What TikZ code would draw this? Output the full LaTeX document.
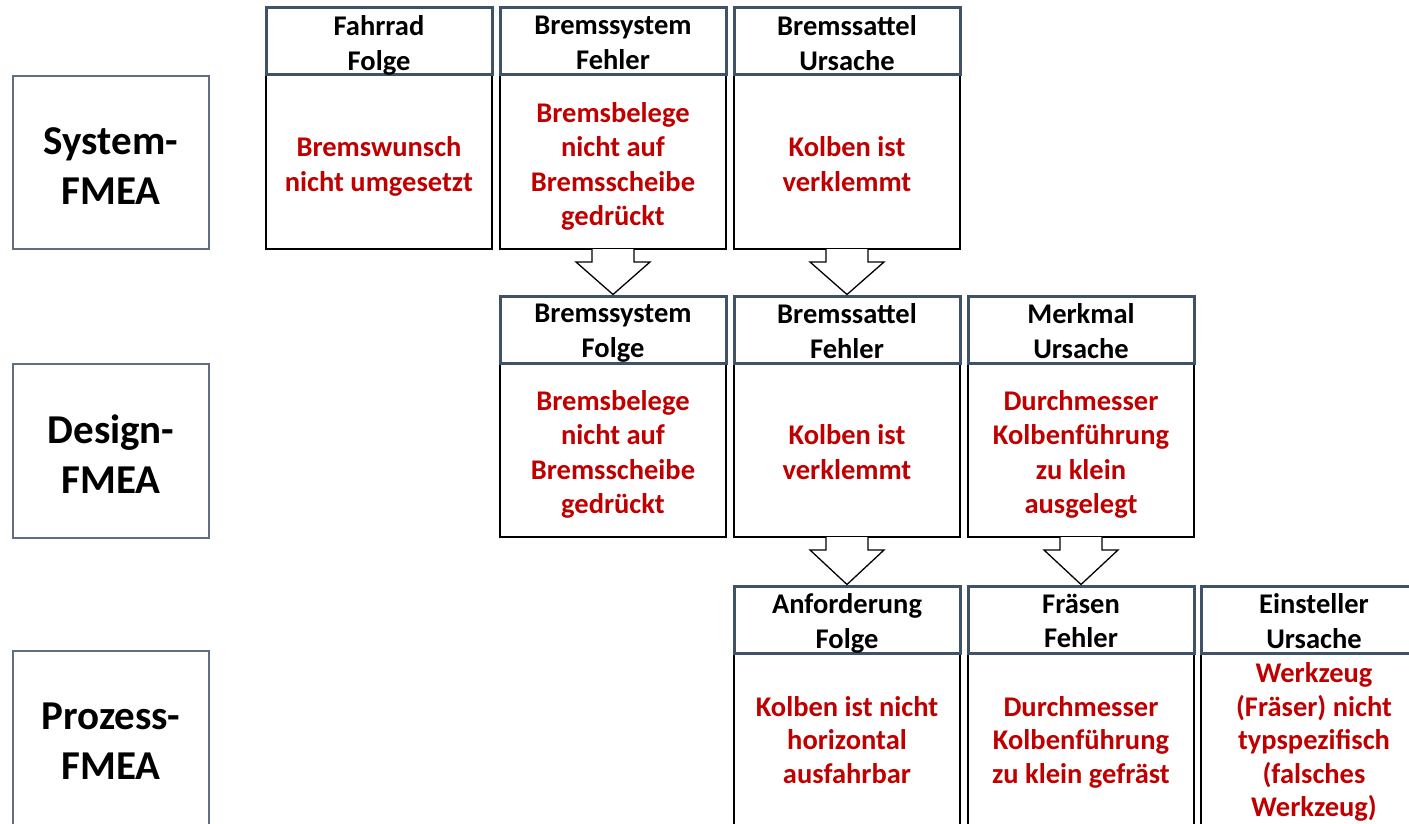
\documentclass[tikz,border=0pt]{standalone}
\usepackage{fontspec}
\setmainfont{Carlito}
\usetikzlibrary{calc}
\definecolor{headline}{RGB}{64,82,104}
\definecolor{causered}{RGB}{192,0,0}
\definecolor{labelline}{RGB}{95,110,130}

% strut that gives every first and last line the same height and depth
\newcommand\cellstrut{\rule[-0.174\baselineskip]{0pt}{\baselineskip}}

% one FMEA cell: name, left x, top y, header text, body text, body height
\newcommand\fmeacell[6]{%
  \node[body,minimum height=#6pt] (#1b) at (#2,#3+67) {};
  \node[head] (#1h) at (#2,#3) {};
  \node[headtext] (#1ht) at (#1h.center) {#4};
  \node[bodytext] (#1bt) at (#1b.center) {#5};}

% hollow block arrow from the bottom of one cell to the header of the next
\newcommand\downflow[2]{%
  \draw[flow] ($(#1.south)+(-21,0)$) -- ($(#1.south)+(-21,13)$)
    -- ($(#1.south)+(-37,13)$) -- ($(#2.north)+(0,-1.5)$)
    -- ($(#1.south)+(37,13)$) -- ($(#1.south)+(21,13)$)
    -- ($(#1.south)+(21,0)$);}

\begin{document}
\begin{tikzpicture}[x=1pt,y=-1pt,
  every node/.style={inner sep=0pt,outer sep=0pt,align=center,
    font=\bfseries\fontsize{28.5}{34.5}\selectfont},
  lines/.style={execute at begin node={\cellstrut},
    execute at end node={\cellstrut}},
  head/.style={draw=headline,line width=3pt,fill=white,
    minimum width=226pt,minimum height=67pt,anchor=north west},
  body/.style={draw=black,line width=1.4pt,fill=white,
    minimum width=226pt,anchor=north west},
  headtext/.style={lines,yshift=-4.5pt},
  bodytext/.style={lines,text=causered,yshift=-5pt},
  level/.style={draw=labelline,line width=1.1pt,minimum width=196pt,
    anchor=north west},
  leveltext/.style={lines,font=\bfseries\fontsize{41}{50}\selectfont},
  flow/.style={draw=black,line width=1.3pt,fill=white,line join=miter}
]
\useasboundingbox (0,0) rectangle (1409,824);
\clip (0,0) rectangle (1409,824);

% FMEA levels
\node[level,minimum height=173pt] (sys) at (13,76) {};
\node[leveltext,yshift=-7.5pt] (syst) at (sys.center) {System-\\FMEA};
\node[level,minimum height=174pt] (des) at (13,364) {};
\node[leveltext,yshift=-7.5pt] (dest) at (des.center) {Design-\\FMEA};
\node[level,minimum height=180pt] (pro) at (13,651) {};
\node[leveltext,yshift=-4.5pt] (prot) at (pro.center) {Prozess-\\FMEA};

% System-FMEA
\fmeacell{c11}{266}{8}{Fahrrad\\Folge}{Bremswunsch\\nicht umgesetzt}{174}
\fmeacell{c12}{500}{8}{Bremssystem\\Fehler}{Bremsbelege\\nicht auf\\Bremsscheibe\\gedrückt}{174}
\fmeacell{c13}{734}{8}{Bremssattel\\Ursache}{Kolben ist\\verklemmt}{174}

% Design-FMEA
\fmeacell{c22}{500}{296}{Bremssystem\\Folge}{Bremsbelege\\nicht auf\\Bremsscheibe\\gedrückt}{174}
\fmeacell{c23}{734}{296}{Bremssattel\\Fehler}{Kolben ist\\verklemmt}{174}
\fmeacell{c24}{968}{296}{Merkmal\\Ursache}{Durchmesser\\Kolbenführung\\zu klein\\ausgelegt}{174}

% Prozess-FMEA (slightly tighter lines in the cell bodies)
\begin{scope}[bodytext/.style={lines,text=causered,yshift=-2pt,
    font=\bfseries\fontsize{28.5}{33.5}\selectfont}]
\fmeacell{c33}{734}{586}{Anforderung\\Folge}{Kolben ist nicht\\horizontal\\ausfahrbar}{175}
\fmeacell{c34}{968}{586}{Fräsen\\Fehler}{Durchmesser\\Kolbenführung\\zu klein gefräst}{175}
\fmeacell{c35}{1201}{586}{Einsteller\\Ursache}{Werkzeug\\(Fräser) nicht\\typspezifisch\\(falsches\\Werkzeug)}{175}
\end{scope}

% links between the levels
\downflow{c12b}{c22h}
\downflow{c13b}{c23h}
\downflow{c23b}{c33h}
\downflow{c24b}{c34h}
\end{tikzpicture}
\end{document}
